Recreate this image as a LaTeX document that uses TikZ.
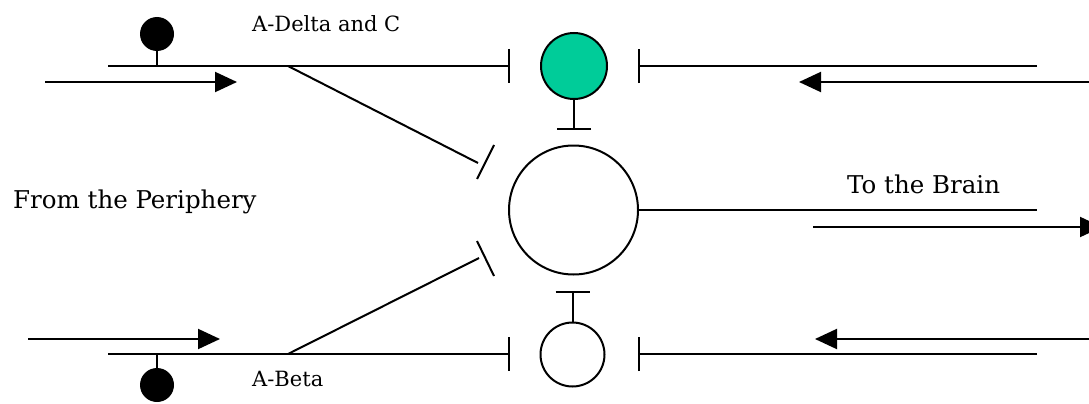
\documentclass[tikz,border=0pt]{standalone}
\usepackage{fontspec}
\setmainfont{DejaVu Serif}
\usetikzlibrary{arrows.meta}
\definecolor{cellgreen}{RGB}{0,204,153}
\tikzset{
  fiber/.style={line width=2pt},
  fwd/.style={line width=2pt,-{Triangle[length=22pt,width=20pt]}},
  tee/.style={line width=2pt,-{Bar[width=34pt]}},
  cell/.style={circle,draw,line width=2pt,inner sep=0pt},
  soma/.style={circle,fill=black,inner sep=0pt,minimum size=34pt},
  biglbl/.style={inner sep=0pt,font=\fontsize{24.5}{28}\selectfont},
  smalllbl/.style={inner sep=0pt,font=\fontsize{21}{24}\selectfont},
}
\begin{document}
\begin{tikzpicture}[x=1pt,y=-1pt]
\useasboundingbox (0,0) rectangle (1089,404);
% cells
\node[cell,fill=cellgreen,minimum size=66pt] (green) at (574,66) {};
\node[cell,minimum size=129pt] (big) at (573.5,210) {};
\node[cell,minimum size=64pt] (small) at (572.5,354.5) {};
% somas
\node[soma] (somaT) at (157,34) {};
\node[soma] (somaB) at (157,385) {};
% coordinates
\coordinate (tL) at (108,66);
\coordinate (tS) at (157,66);
\coordinate (tBr) at (288,66);
\coordinate (tEnd) at (510,66);
\coordinate (bL) at (108,354);
\coordinate (bS) at (157,354);
\coordinate (bBr) at (288,354);
\coordinate (bEnd) at (510,354);
\coordinate (rtS) at (1037,66);
\coordinate (rtE) at (638,66);
\coordinate (rbS) at (1037,354);
\coordinate (rbE) at (638,354);
\coordinate (outE) at (1037,210);
\coordinate (dT) at (478,163);
\coordinate (dB) at (479,258);
\coordinate (barT1) at (477,179); \coordinate (barT2) at (494,145);
\coordinate (barB1) at (477,241); \coordinate (barB2) at (494,276);
\coordinate (gT) at (574,130);
\coordinate (sT) at (572.5,291);
% arrows
\coordinate (a1s) at (45,82);   \coordinate (a1e) at (237,82);
\coordinate (a2s) at (28,339);  \coordinate (a2e) at (220,339);
\coordinate (a3s) at (1089,82); \coordinate (a3e) at (799,82);
\coordinate (a4s) at (1089,339);\coordinate (a4e) at (815,339);
\coordinate (a5s) at (813,227); \coordinate (a5e) at (1102,227);
% top fiber
\draw[tee] (tL) -- (tEnd);
\draw[fiber] (somaT.center) -- (tS);
\draw[fiber] (tBr) -- (dT);
\draw[fiber] (barT1) -- (barT2);
% bottom fiber
\draw[tee] (bL) -- (bEnd);
\draw[fiber] (somaB.center) -- (bS);
\draw[fiber] (bBr) -- (dB);
\draw[fiber] (barB1) -- (barB2);
% descending
\draw[tee] (rtS) -- (rtE);
\draw[tee] (rbS) -- (rbE);
% interneurons to projection cell
\draw[tee] (green.south) -- (gT);
\draw[tee] (small.north) -- (sT);
% output
\draw[fiber] (big.east) -- (outE);
% direction arrows
\draw[fwd] (a1s) -- (a1e);
\draw[fwd] (a2s) -- (a2e);
\draw[fwd] (a3s) -- (a3e);
\draw[fwd] (a4s) -- (a4e);
\draw[fwd] (a5s) -- (a5e);
% labels
\node[smalllbl,anchor=base west] (lAD) at (252,32) {A-Delta and C};
\node[smalllbl,anchor=base west] (lAB) at (252,386) {A-Beta};
\node[biglbl,anchor=base west] (lFP) at (13,208) {From the Periphery};
\node[biglbl,anchor=base west] (lTB) at (847,193) {To the Brain};
\end{tikzpicture}
\end{document}
